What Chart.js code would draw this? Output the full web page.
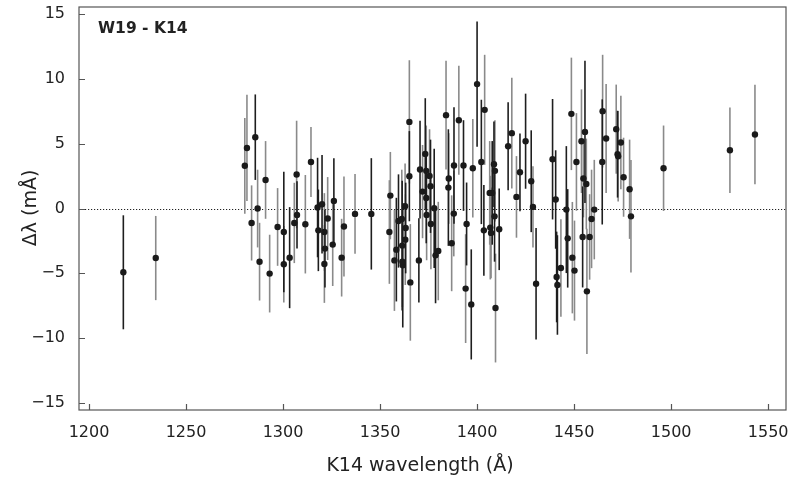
<!DOCTYPE html>
<html>
<head>
<meta charset="utf-8">
<script src="https://cdn.jsdelivr.net/npm/chart.js@4.4.1/dist/chart.umd.min.js"></script>
<style>
html,body{margin:0;padding:0;background:#fff;}
#wrap{width:791px;height:477px;position:relative;}
</style>
</head>
<body>
<div id="wrap"><canvas id="c" width="791" height="477"></canvas></div>
<script>
// Series with dark error bars
const lambdaDark = [1217.7,1285.7,1300.4,1303.4,1307.2,1317.8,1318.2,1320.1,1321.6,1326.2,1345.5,1358.4,1359.5,1361.4,1361.7,1363.2,1365.1,1370.0,1370.6,1373.3,1373.8,1376.0,1377.9,1378.6,1385.2,1388.1,1393.0,1394.6,1397.0,1400.0,1402.2,1403.5,1407.8,1408.7,1409.0,1411.4,1416.0,1422.1,1425.0,1427.9,1430.4,1438.9,1440.5,1441.0,1441.4,1446.0,1446.7,1455.6,1454.4,1464.5,1472.4];
const deltaDark  = [-4.92,5.51,-1.81,-3.79,-0.49,0.08,-1.68,0.33,-3.09,0.59,-0.41,-3.17,-0.96,-2.86,-4.38,-1.50,2.50,-4.00,3.01,4.22,0.82,1.72,0.02,-3.61,1.62,3.32,3.32,-1.19,-7.40,9.61,3.60,-1.68,1.21,3.42,-0.60,-1.60,4.81,2.80,5.20,2.11,-5.80,3.81,0.70,-5.28,-5.90,-0.08,-2.30,5.92,-2.19,3.60,4.20];
const errDark    = [4.4,3.3,4.65,3.9,2.6,3.84,3.15,3.8,3.0,3.3,4.3,4.0,3.6,5.0,4.8,3.5,3.48,3.26,3.77,4.3,3.5,3.6,4.6,3.7,4.5,4.5,3.5,3.2,4.25,4.83,4.8,3.5,4.0,3.3,3.5,3.15,3.4,3.0,3.67,3.93,4.3,4.65,3.8,3.5,3.84,4.9,3.8,5.5,3.9,4.83,3.35];
// Series with grey error bars
const lambdaGrey = [1234.4,1280.3,1281.4,1283.8,1286.9,1287.9,1291.0,1293.1,1297.2,1300.4,1305.8,1307.0,1311.5,1314.4,1321.3,1321.3,1323.0,1325.6,1330.2,1331.4,1337.1,1354.8,1355.3,1357.4,1361.2,1361.5,1362.9,1363.0,1365.1,1365.6,1371.9,1373.8,1374.0,1375.5,1376.2,1380.0,1384.0,1385.4,1386.9,1388.0,1390.6,1394.1,1397.8,1403.9,1406.5,1406.8,1407.2,1409.2,1409.5,1417.9,1420.3,1428.8,1443.2,1448.6,1449.1,1450.2,1451.2,1453.8,1454.8,1456.3,1458.0,1456.6,1459.0,1460.4,1464.7,1466.5,1471.7,1472.7,1474.1,1475.5,1478.6,1479.3,1496.1,1530.3,1543.2];
const deltaGrey  = [-3.82,3.30,4.68,-1.11,0.0,-4.10,2.21,-5.02,-1.42,-4.30,-1.11,2.63,-1.21,3.60,-1.81,-4.28,-0.77,-2.78,-3.79,-1.39,-0.41,-1.81,1.00,-4.00,-0.80,-4.10,0.18,-2.40,6.69,-5.70,1.31,2.91,-0.49,2.52,-1.19,-3.28,7.21,2.32,-2.68,-0.39,6.82,-6.18,3.11,7.62,1.21,-1.47,-1.88,2.91,-7.68,5.82,0.90,0.13,-4.59,7.31,-3.79,-4.79,3.60,5.20,2.32,1.90,-2.19,-6.39,-0.80,-0.08,7.52,5.41,6.13,4.04,5.10,2.42,1.49,-0.60,3.11,4.50,5.72];
const errGrey    = [3.25,3.7,4.1,2.9,3.0,3.0,3.0,3.0,3.0,2.95,3.1,4.15,3.8,2.7,3.0,3.0,3.2,3.2,3.0,3.86,3.07,4.0,3.37,3.9,3.8,3.5,3.3,3.5,4.76,4.5,3.6,3.5,3.5,3.6,3.5,3.8,4.2,3.5,3.7,3.3,4.2,4.2,3.8,4.25,4.0,4.0,3.5,3.9,4.2,4.27,3.15,3.13,3.76,4.34,4.3,3.86,3.77,4.0,3.0,3.5,3.3,4.83,3.8,3.84,4.35,4.2,3.44,3.5,3.6,3.05,3.83,4.34,3.3,3.3,3.84];

const xTicks = [1200,1250,1300,1350,1400,1450,1500,1550];
const yTicks = [-15,-10,-5,0,5,10,15];
const panelLabel = 'W19 - K14';
const xTitle = 'K14 wavelength (Å)';
const yTitle = 'Δλ (mÅ)';

const FONT = "'DejaVu Sans', sans-serif";

function pts(xs, ys, es){ return xs.map((x,i)=>({x:x, y:ys[i], e:es[i]})); }

const errorBarPlugin = {
  id:'errbars',
  beforeDatasetsDraw(chart){
    const ctx = chart.ctx, xs = chart.scales.x, ys = chart.scales.y, a = chart.chartArea;
    ctx.save();
    ctx.beginPath(); ctx.rect(a.left,a.top,a.right-a.left,a.bottom-a.top); ctx.clip();
    // zero line
    ctx.strokeStyle = '#222'; ctx.lineWidth = 1; ctx.setLineDash([1.2,1.8]);
    const y0 = Math.round(ys.getPixelForValue(0))+0.5;
    ctx.beginPath(); ctx.moveTo(a.left,y0); ctx.lineTo(a.right,y0); ctx.stroke();
    ctx.setLineDash([]);
    chart.data.datasets.forEach(ds=>{
      ctx.strokeStyle = ds.barColor; ctx.lineWidth = 1.6;
      ds.data.forEach(p=>{
        const px = xs.getPixelForValue(p.x);
        ctx.beginPath();
        ctx.moveTo(px, ys.getPixelForValue(p.y+p.e));
        ctx.lineTo(px, ys.getPixelForValue(p.y-p.e));
        ctx.stroke();
      });
    });
    ctx.restore();
  },
  afterDraw(chart){
    const ctx = chart.ctx, xs = chart.scales.x, ys = chart.scales.y, a = chart.chartArea;
    ctx.save();
    ctx.strokeStyle = '#555'; ctx.lineWidth = 1.2;
    ctx.strokeRect(a.left, a.top, a.right-a.left, a.bottom-a.top);
    ctx.beginPath();
    xTicks.forEach(t=>{ const px = Math.round(xs.getPixelForValue(t))+0.5; ctx.moveTo(px,a.bottom); ctx.lineTo(px,a.bottom-6); });
    yTicks.forEach(t=>{ const py = Math.round(ys.getPixelForValue(t))+0.5; ctx.moveTo(a.left,py); ctx.lineTo(a.left+6,py); });
    ctx.stroke();
    ctx.fillStyle = '#222';
    ctx.font = "bold 15.5px " + FONT; ctx.textAlign='left'; ctx.textBaseline='middle';
    ctx.fillText(panelLabel, 98, 28.5);
    ctx.font = "19px " + FONT; ctx.textAlign='center';
    ctx.fillText(xTitle, 420, 466);
    ctx.translate(31, 208); ctx.rotate(-Math.PI/2);
    ctx.fillText(yTitle, 0, 0);
    ctx.restore();
  }
};

new Chart(document.getElementById('c'), {
  type:'scatter',
  data:{ datasets:[
    { data: pts(lambdaGrey, deltaGrey, errGrey), barColor:'#8a8a8a', backgroundColor:'#1a1a1a', borderColor:'#1a1a1a', pointRadius:3.2, pointHoverRadius:3.2, borderWidth:0 },
    { data: pts(lambdaDark, deltaDark, errDark), barColor:'#1e1e1e', backgroundColor:'#1a1a1a', borderColor:'#1a1a1a', pointRadius:3.2, pointHoverRadius:3.2, borderWidth:0 }
  ]},
  options:{
    responsive:false, animation:false,
    layout:{ padding:{ left:0, top:7, right:5, bottom:0 } },
    plugins:{ legend:{display:false}, tooltip:{enabled:false} },
    scales:{
      x:{ type:'linear', min:1194.85, max:1559.2,
          afterFit(s){ s.height = 67; s.paddingLeft = 0; s.paddingRight = 0; },
          afterBuildTicks(s){ s.ticks = xTicks.map(v=>({value:v})); },
          grid:{ display:false, drawTicks:false }, border:{ display:false },
          ticks:{ color:'#222', font:{ family:FONT, size:16 }, padding:13, maxRotation:0,
                  callback:v=>String(v) } },
      y:{ type:'linear', min:-15.55, max:15.56,
          afterFit(s){ s.width = 79; s.paddingTop = 0; s.paddingBottom = 0; },
          afterBuildTicks(s){ s.ticks = yTicks.map(v=>({value:v})); },
          grid:{ display:false, drawTicks:false }, border:{ display:false },
          ticks:{ color:'#222', font:{ family:FONT, size:16 }, padding:14,
                  callback:v=> (v<0 ? '\u2212'+Math.abs(v) : String(v)) } }
    }
  },
  plugins:[errorBarPlugin]
});
</script>
</body>
</html>
